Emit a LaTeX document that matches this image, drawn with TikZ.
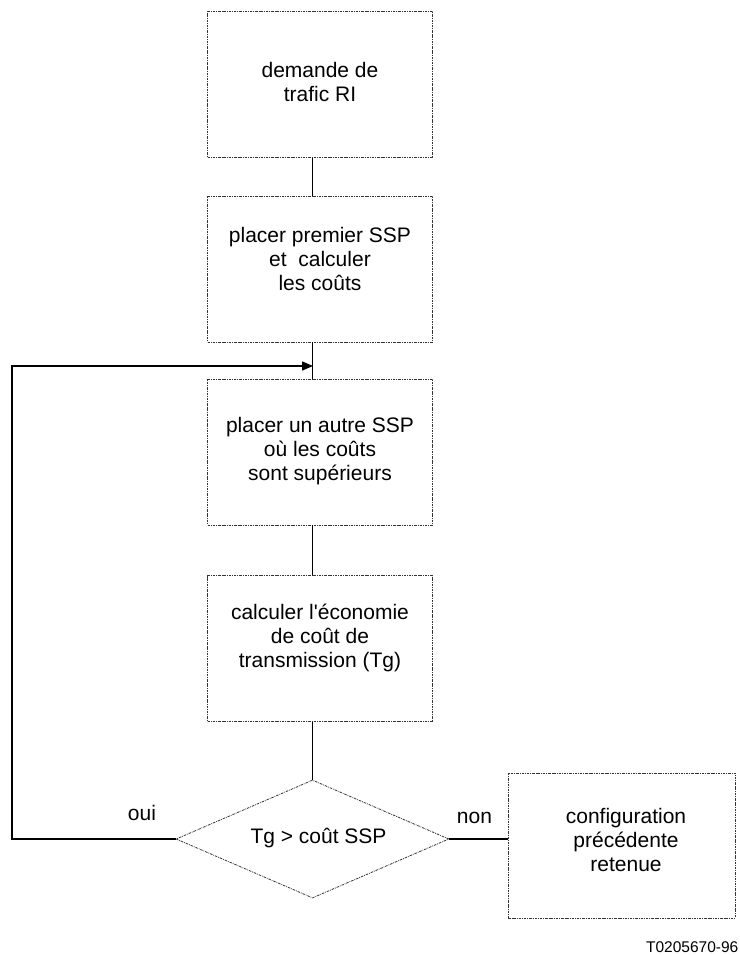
\documentclass[tikz,border=0pt]{standalone}
\usepackage{fontspec}
\setmainfont{Liberation Sans}[Ligatures=TeXOff]
\usetikzlibrary{shapes.geometric,arrows.meta}

\begin{document}
\begin{tikzpicture}[x=1pt,y=-1pt,
  stepbox/.style={draw=black!80, line width=0.8pt,
    dash pattern=on 2.5pt off 1pt on 0.8pt off 1pt,
    rectangle, inner sep=0pt, minimum width=225pt, minimum height=146pt},
  decision/.style={draw=black!80, line width=0.8pt,
    dash pattern=on 2.5pt off 1pt on 0.8pt off 1pt,
    diamond, inner sep=0pt, minimum width=273pt, minimum height=118pt},
  txt/.style={align=center, inner sep=0pt,
    font=\fontsize{21pt}{24pt}\selectfont},
  lbl/.style={inner sep=0pt, font=\fontsize{21pt}{24pt}\selectfont},
  conn/.style={draw=black, line width=1.3pt},
  arr/.style={conn, -{Triangle[length=11pt,width=9pt]}}]

\useasboundingbox (0,0) rectangle (739,955);

% process boxes
\node[stepbox] (b1) at (320,84.5) {};
\node[stepbox] (b2) at (320,269) {};
\node[stepbox] (b3) at (320,452) {};
\node[stepbox] (b4) at (320,648.5) {};
\node[stepbox, minimum width=227pt, minimum height=145pt] (b5) at (621.5,845.5) {};

% decision
\node[decision] (d) at (312.5,839) {};

% box texts
\node[txt] (t1) at (320,82) {demande de\\trafic RI};
\node[txt] (t2) at (320,259) {placer premier SSP\\et\ \ calculer\\les coûts};
\node[txt] (t3) at (320,451) {placer un autre SSP\\où les coûts\\sont supérieurs};
\node[txt] (t4) at (320,638) {calculer l'économie\\de coût de\\transmission (Tg)};
\node[txt] (t5) at (626,840) {configuration\\précédente\\retenue};
\node[lbl, anchor=base] (td) at (318.5,843) {Tg > coût SSP};

% branch labels
\node[lbl, anchor=base] (oui) at (142,820) {oui};
\node[lbl, anchor=base] (non) at (474.5,823) {non};

% figure reference
\node[inner sep=0pt, anchor=base east, font=\fontsize{15.5pt}{18pt}\selectfont] (ref) at (738.5,952) {T0205670-96};

% connectors
\draw[conn] (b1.south -| d.north) -- (b2.north -| d.north);
\draw[conn] (b2.south -| d.north) -- (b3.north -| d.north);
\draw[conn] (b3.south -| d.north) -- (b4.north -| d.north);
\draw[conn] (b4.south -| d.north) -- (d.north);
\draw[conn] (d.east) -- (d.east -| b5.west);

% feedback loop
\coordinate (merge) at (313,366);
\coordinate (corner) at (12,366);
\draw[arr] (d.west) -| (corner) -- (merge);
\end{tikzpicture}
\end{document}
